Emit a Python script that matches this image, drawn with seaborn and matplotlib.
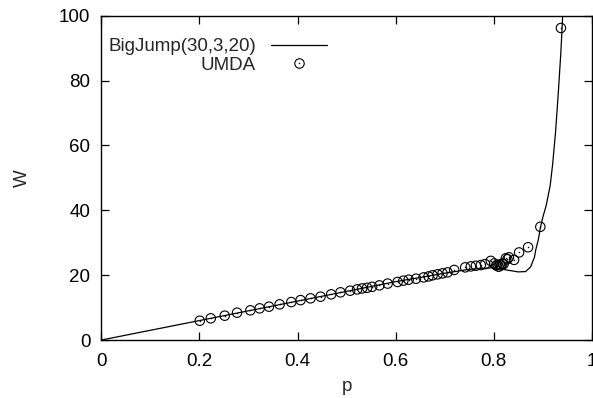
import matplotlib
matplotlib.use("Agg")
import matplotlib.pyplot as plt
import seaborn as sns
import pandas as pd
from matplotlib.lines import Line2D
from matplotlib.legend_handler import HandlerTuple

# ---- data ----
curve_p = [0.0, 0.1, 0.2, 0.3, 0.4, 0.5, 0.6, 0.7, 0.75, 0.8, 0.83, 0.85,
           0.865, 0.875, 0.883, 0.8857, 0.891, 0.895, 0.9, 0.907, 0.915,
           0.92, 0.926, 0.932, 0.937, 0.9406]
curve_w = [0.0, 3.0, 6.0, 9.0, 12.0, 15.0, 18.0, 20.6, 21.8, 22.3, 21.5, 21.0,
           21.1, 22.5, 25.5, 27.8, 31.0, 34.5, 37.8, 41.5, 47.5,
           54.0, 64.0, 77.0, 89.0, 100.0]

umda_p = [0.2006, 0.223, 0.2515, 0.2766, 0.3037, 0.3227, 0.3417, 0.3634,
          0.3872, 0.4061, 0.4264, 0.4468, 0.4685, 0.4875, 0.5072, 0.5214,
          0.5316, 0.5418, 0.552, 0.5668, 0.5837, 0.604, 0.6157, 0.6265,
          0.6415, 0.657, 0.667, 0.6753, 0.6855, 0.6956, 0.7058, 0.7194,
          0.7418, 0.7534, 0.7636, 0.7737, 0.7825, 0.794, 0.8008, 0.805,
          0.8075, 0.81, 0.8124, 0.815, 0.8177, 0.82, 0.8247, 0.8279, 0.831,
          0.8415, 0.8517, 0.87, 0.895, 0.937]
umda_w = [5.95, 6.68, 7.5, 8.43, 9.15, 9.76, 10.28, 11.0,
          11.7, 12.3, 12.85, 13.36, 14.08, 14.7, 15.2, 15.6,
          15.9, 16.1, 16.4, 16.85, 17.4, 17.9, 18.3, 18.6,
          18.9, 19.3, 19.6, 19.95, 20.25, 20.55, 20.85, 21.6,
          22.4, 22.7, 22.9, 23.1, 23.4, 24.4, 23.6, 23.0,
          23.1, 22.6, 23.3, 23.0, 23.6, 23.4, 25.2, 24.9, 25.5,
          24.7, 27.0, 28.6, 34.9, 96.2]

x_ticks = [0, 0.2, 0.4, 0.6, 0.8, 1]
x_ticklabels = ["0", "0.2", "0.4", "0.6", "0.8", "1"]
y_ticks = [0, 20, 40, 60, 80, 100]

curve_label = "BigJump(30,3,20)"
points_label = "UMDA"

# ---- styling ----
sns.set_style("ticks")
plt.rcParams["font.family"] = ["Liberation Sans", "DejaVu Sans"]
plt.rcParams["font.size"] = 13.5

fig = plt.figure(figsize=(5.93, 3.98), dpi=100)
ax = fig.add_axes([0.171, 0.1457, 0.827, 0.8149])

curve_df = pd.DataFrame({"p": curve_p, "W": curve_w})
pts_df = pd.DataFrame({"p": umda_p, "W": umda_w})

sns.lineplot(data=curve_df, x="p", y="W", ax=ax, color="black", lw=0.9,
             sort=False, estimator=None, legend=False)
sns.scatterplot(data=pts_df, x="p", y="W", ax=ax, marker="o", s=46,
                facecolors="none", edgecolor="black", linewidth=0.8,
                legend=False, zorder=3)
sns.scatterplot(data=pts_df, x="p", y="W", ax=ax, marker="o", s=1.2,
                color="black", linewidth=0, legend=False, zorder=4)

ax.set_xlim(0, 1)
ax.set_ylim(0, 100)
ax.set_xticks(x_ticks)
ax.set_xticklabels(x_ticklabels)
ax.set_yticks(y_ticks)
ax.set_xlabel("p", labelpad=6)
ax.set_ylabel("W", labelpad=20)
ax.tick_params(direction="in", length=6, width=0.9, top=True, right=True,
               labelsize=13.5, color="black", labelcolor="black")
ax.tick_params(axis="x", pad=9)
ax.tick_params(axis="y", pad=8)
for s in ax.spines.values():
    s.set_visible(True)
    s.set_linewidth(1.0)
    s.set_color("black")

h_line = Line2D([], [], color="black", lw=0.9)
h_circ = Line2D([], [], color="black", marker="o", ls="none", ms=6.8,
                mfc="none", mew=0.8)
h_dot = Line2D([], [], color="black", marker="o", ls="none", ms=1.1, mew=0)
leg = ax.legend([h_line, (h_circ, h_dot)], [curve_label, points_label],
                handler_map={tuple: HandlerTuple(ndivide=1)},
                loc="upper left", bbox_to_anchor=(0.0135, 0.931),
                frameon=False, markerfirst=False, borderpad=0,
                borderaxespad=0, handlelength=3.0, handletextpad=0.8,
                labelspacing=0.08, fontsize=13.5)
for col in leg._legend_handle_box.get_children():
    col.align = "right"

fig.savefig("out.png", dpi=100)
